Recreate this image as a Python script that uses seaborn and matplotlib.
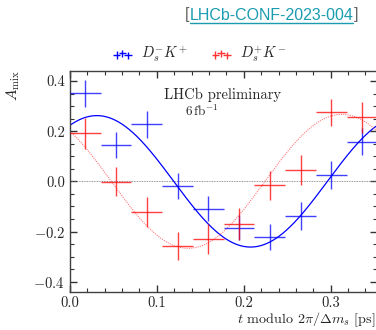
import numpy as np
import pandas as pd
import matplotlib
matplotlib.use("Agg")
import matplotlib.pyplot as plt
from matplotlib.lines import Line2D
from matplotlib.ticker import MultipleLocator
import seaborn as sns

# Oscillation period 2*pi/Delta m_s in ps, ten bins per period
period = 0.3537
bin_centers = [0.0177, 0.0530, 0.0884, 0.1238, 0.1592, 0.1945, 0.2299, 0.2653, 0.3006, 0.3360]
bin_halfwidth = 0.0177

# D_s^- K^+ (blue)
amix_dmkp = [0.351, 0.145, 0.228, -0.019, -0.110, -0.185, -0.223, -0.137, 0.025, 0.158]
err_dmkp = [0.054, 0.053, 0.054, 0.053, 0.050, 0.050, 0.052, 0.056, 0.056, 0.053]

# D_s^+ K^- (red)
amix_dpkm = [0.191, -0.002, -0.121, -0.258, -0.230, -0.170, -0.015, 0.045, 0.275, 0.255]
err_dpkm = [0.062, 0.058, 0.060, 0.056, 0.058, 0.062, 0.058, 0.058, 0.055, 0.063]

# Fitted projections: amplitude * cos(dm * t + phase)
fit_amp_dmkp, fit_phase_dmkp = 0.262, -0.55
fit_amp_dpkm, fit_phase_dpkm = 0.267, 0.726

sns.set_theme(style="ticks")
plt.rcParams.update({
    "font.family": "serif",
    "font.serif": ["cmr10"],
    "mathtext.fontset": "cm",
    "axes.formatter.use_mathtext": True,
    "axes.unicode_minus": True,
    "axes.linewidth": 1.0,
})

fig = plt.figure(figsize=(3.76, 3.30), dpi=100)
ax = fig.add_axes([0.186, 0.116, 0.816, 0.669])

dm = 2 * np.pi / period
t = np.linspace(0, period, 400)
curves = pd.DataFrame({
    "t": t,
    "blue": fit_amp_dmkp * np.cos(dm * t + fit_phase_dmkp),
    "red": fit_amp_dpkm * np.cos(dm * t + fit_phase_dpkm),
})

ax.axhline(0, color="0.45", lw=0.6, ls=(0, (1, 1)), zorder=1)
sns.lineplot(data=curves, x="t", y="blue", ax=ax, color="#0000ff", lw=0.9, zorder=2)
sns.lineplot(data=curves, x="t", y="red", ax=ax, color="#ff5050", lw=0.8,
             ls=(0, (1, 1)), alpha=0.75, zorder=2)

ax.errorbar(bin_centers, amix_dmkp, xerr=bin_halfwidth, yerr=err_dmkp,
            fmt="none", ecolor="#0000ff", elinewidth=1.0, alpha=0.75, zorder=3)
ax.errorbar(bin_centers, amix_dpkm, xerr=bin_halfwidth, yerr=err_dpkm,
            fmt="none", ecolor="#ff0000", elinewidth=1.0, alpha=0.75, zorder=3)

ax.set_xlim(0, 0.353)
ax.set_ylim(-0.44, 0.44)
ax.xaxis.set_major_locator(MultipleLocator(0.1))
ax.xaxis.set_minor_locator(MultipleLocator(0.02))
ax.yaxis.set_major_locator(MultipleLocator(0.2))
ax.yaxis.set_minor_locator(MultipleLocator(0.05))
ax.xaxis.set_major_formatter(matplotlib.ticker.FormatStrFormatter("%.1f"))
ax.yaxis.set_major_formatter(matplotlib.ticker.FuncFormatter(
    lambda v, p: ("$-$" if v < -1e-9 else "") + f"{abs(v):.1f}"))
ax.tick_params(which="both", direction="in", top=True, right=True,
               labelsize=10.5, color="0.2")
ax.tick_params(which="major", length=5, width=1.0)
ax.tick_params(which="minor", length=3, width=0.8)
for s in ax.spines.values():
    s.set_color("0.25")

ax.set_ylabel(r"$A_\mathrm{mix}$", fontsize=11)
ax.yaxis.set_label_coords(-0.155, 0.935)
ax.set_xlabel(r"$t$ modulo $2\pi/\mathit{\Delta} m_s$ [ps]", fontsize=10.2,
              ha="right", va="center")
ax.xaxis.set_label_coords(0.994, -0.128)

ax.text(0.496, 0.893, "LHCb preliminary", transform=ax.transAxes,
        ha="center", va="center", fontsize=10.5)
ax.text(0.43, 0.818, r"$6\,\mathrm{fb}^{-1}$", transform=ax.transAxes,
        ha="center", va="center", fontsize=9.5)

h_blue = ax.scatter([], [], marker="+", color="#0000ff", s=30, lw=1.0)
h_red = ax.scatter([], [], marker="+", color="#ff0000", s=30, lw=1.0, alpha=0.8)
fig.legend([h_blue, h_red], [r"$D_s^{-}K^{+}$", r"$D_s^{+}K^{-}$"],
           loc="center", bbox_to_anchor=(0.53, 0.835), ncol=2, frameon=False,
           scatterpoints=3, fontsize=10.5, handlelength=1.4, handletextpad=0.6,
           columnspacing=1.6)

# Document reference link above the plot
fig.canvas.draw()
renderer = fig.canvas.get_renderer()
y_link = 1 - 15 / 330
x0 = 185 / 376
lb = fig.text(x0, y_link, "[", fontsize=11.5, color="#666666",
              family="Liberation Sans", va="center", ha="left")
bb = lb.get_window_extent(renderer)
lt = fig.text(bb.x1 / fig.bbox.width, y_link, "LHCb-CONF-2023-004", fontsize=11.5,
              color="#1a9cb0", family="Liberation Sans", va="center", ha="left")
bt = lt.get_window_extent(renderer)
fig.text(bt.x1 / fig.bbox.width, y_link, "]", fontsize=11.5, color="#666666",
         family="Liberation Sans", va="center", ha="left")
uy = (bt.y0 - 0.5) / fig.bbox.height
fig.add_artist(Line2D([bt.x0 / fig.bbox.width, bt.x1 / fig.bbox.width], [uy, uy],
                      color="#1a9cb0", lw=1.0, transform=fig.transFigure))

fig.savefig("out.png", dpi=100)
